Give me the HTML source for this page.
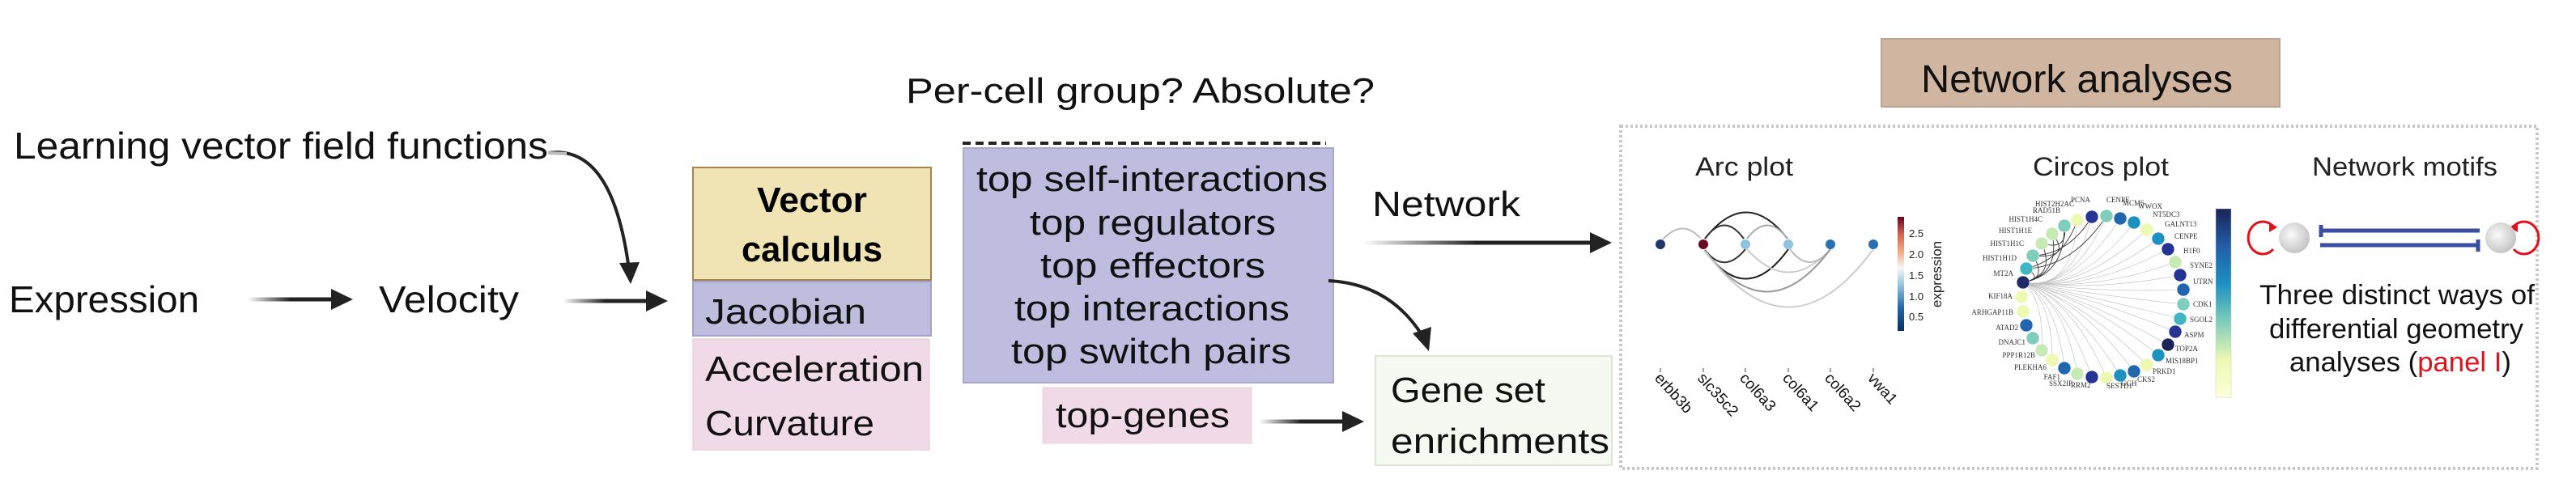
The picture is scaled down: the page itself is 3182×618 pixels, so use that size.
<!DOCTYPE html>
<html><head><meta charset="utf-8"><style>
html,body{margin:0;padding:0;background:#fff;}
svg{display:block;font-family:"Liberation Sans",sans-serif;}
</style></head><body>
<svg width="3182" height="618" viewBox="0 0 3182 618" xmlns="http://www.w3.org/2000/svg">
<defs>
<linearGradient id="gh" x1="0" x2="1" y1="0" y2="0"><stop offset="0" stop-color="#fff"/><stop offset="0.5" stop-color="#222"/><stop offset="1" stop-color="#222"/></linearGradient>
<linearGradient id="rdbu" x1="0" x2="0" y1="1" y2="0"><stop offset="0" stop-color="#053061"/><stop offset="0.2" stop-color="#2166ac"/><stop offset="0.4" stop-color="#92c5de"/><stop offset="0.55" stop-color="#f7f7f7"/><stop offset="0.7" stop-color="#f4a582"/><stop offset="0.85" stop-color="#d6604d"/><stop offset="1" stop-color="#67001f"/></linearGradient>
<linearGradient id="ygb" x1="0" x2="0" y1="1" y2="0"><stop offset="0" stop-color="#ffffd9"/><stop offset="0.2" stop-color="#edf8b1"/><stop offset="0.4" stop-color="#7fcdbb"/><stop offset="0.6" stop-color="#1d91c0"/><stop offset="0.8" stop-color="#225ea8"/><stop offset="1" stop-color="#1a2458"/></linearGradient>
<radialGradient id="ball" cx="0.4" cy="0.4" r="0.7"><stop offset="0" stop-color="#fafafa"/><stop offset="1" stop-color="#bdbdbd"/></radialGradient>
</defs>

<!-- left text -->
<g fill="#111" font-size="46">
<text x="17" y="196" textLength="660" lengthAdjust="spacingAndGlyphs">Learning vector field functions</text>
<text x="11" y="386" textLength="235" lengthAdjust="spacingAndGlyphs">Expression</text>
<text x="468" y="386" textLength="173" lengthAdjust="spacingAndGlyphs">Velocity</text>
</g>
<!-- arrows -->
<rect x="306" y="367.5" width="106" height="5" fill="url(#gh)"/>
<polygon points="409,357 436,370 409,383" fill="#222"/>
<rect x="695" y="369.5" width="106" height="5" fill="url(#gh)"/>
<polygon points="798,359 825,372 798,385" fill="#222"/>
<path d="M677,189 C740,180 765,250 776,326" fill="none" stroke="#222" stroke-width="4"/>
<path d="M677,189 L700,190" stroke="#bbb" stroke-width="4"/>
<polygon points="765,325 790,324 779,351" fill="#222"/>

<!-- vector calculus stack -->
<rect x="856" y="207" width="294" height="139" fill="#f0e3b4" stroke="#a8844c" stroke-width="2"/>
<g font-weight="bold" font-size="44" fill="#000" text-anchor="middle">
<text x="1003" y="262" textLength="136" lengthAdjust="spacingAndGlyphs">Vector</text>
<text x="1003" y="323" textLength="174" lengthAdjust="spacingAndGlyphs">calculus</text>
</g>
<rect x="856" y="348" width="294" height="67" fill="#bfbddd" stroke="#a3a1cc" stroke-width="2"/>
<rect x="856" y="419" width="292" height="137" fill="#f0dae7" stroke="#ead0df" stroke-width="1.5"/>
<g font-size="44" fill="#111">
<text x="871" y="400" textLength="199" lengthAdjust="spacingAndGlyphs">Jacobian</text>
<text x="871" y="471" textLength="270" lengthAdjust="spacingAndGlyphs">Acceleration</text>
<text x="871" y="538" textLength="209" lengthAdjust="spacingAndGlyphs">Curvature</text>
</g>

<!-- middle -->
<text x="1119" y="127" font-size="44" fill="#111" textLength="579" lengthAdjust="spacingAndGlyphs">Per-cell group?   Absolute?</text>
<line x1="1189" y1="177" x2="1638" y2="177" stroke="#222" stroke-width="4" stroke-dasharray="10,6"/>
<rect x="1190" y="183" width="457" height="290" fill="#bebde0" stroke="#a8a7cc" stroke-width="2"/>
<g font-size="44" fill="#111" text-anchor="middle">
<text x="1423" y="236" textLength="434" lengthAdjust="spacingAndGlyphs">top self-interactions</text>
<text x="1424" y="290" textLength="304" lengthAdjust="spacingAndGlyphs">top regulators</text>
<text x="1424" y="343" textLength="278" lengthAdjust="spacingAndGlyphs">top effectors</text>
<text x="1423" y="396" textLength="340" lengthAdjust="spacingAndGlyphs">top interactions</text>
<text x="1422" y="449" textLength="346" lengthAdjust="spacingAndGlyphs">top switch pairs</text>
</g>
<rect x="1288" y="479" width="258" height="69" fill="#f0dae7" stroke="#ead0df"/>
<text x="1304" y="528" font-size="44" fill="#111" textLength="215" lengthAdjust="spacingAndGlyphs">top-genes</text>
<text x="1695" y="267" font-size="44" fill="#111" textLength="183" lengthAdjust="spacingAndGlyphs">Network</text>
<rect x="1684" y="297.5" width="282" height="5" fill="url(#gh)"/>
<polygon points="1964,287 1991,300 1964,313" fill="#222"/>
<path d="M1641,347 C1700,350 1735,380 1757,415" fill="none" stroke="#222" stroke-width="4"/>
<polygon points="1745,412 1768,404 1765,434" fill="#222"/>
<rect x="1555" y="518.5" width="105" height="5" fill="url(#gh)"/>
<polygon points="1658,508 1685,521 1658,534" fill="#222"/>
<rect x="1699" y="440" width="292" height="135" fill="#f6f9f2" stroke="#dde6d5" stroke-width="2"/>
<g font-size="44" fill="#111">
<text x="1718" y="497" textLength="191" lengthAdjust="spacingAndGlyphs">Gene set</text>
<text x="1718" y="560" textLength="270" lengthAdjust="spacingAndGlyphs">enrichments</text>
</g>

<!-- network analyses -->
<rect x="2324" y="48" width="492" height="84" fill="#d0b5a0" stroke="#b8a596" stroke-width="2"/>
<text x="2373" y="114" font-size="48" fill="#111" textLength="385" lengthAdjust="spacingAndGlyphs">Network analyses</text>
<rect x="2002" y="156" width="1132" height="423" fill="none" stroke="#c8c8c8" stroke-width="4" stroke-dasharray="3,3"/>
<g font-size="32" fill="#222">
<text x="2094" y="217" textLength="121" lengthAdjust="spacingAndGlyphs">Arc plot</text>
<text x="2511" y="217" textLength="168" lengthAdjust="spacingAndGlyphs">Circos plot</text>
<text x="2856" y="217" textLength="229" lengthAdjust="spacingAndGlyphs">Network motifs</text>
</g>

<!-- arc plot -->
<g fill="none" stroke-width="2">
<path d="M2054,296 Q2078,270 2100,294" stroke="#bbb"/>
<path d="M2106,295 Q2157,230 2208,295" stroke="#222"/>
<path d="M2106,295 Q2130,262 2154,295" stroke="#333"/>
<path d="M2158,295 Q2183,262 2208,295" stroke="#aaa"/>
<path d="M2156,308 Q2130,340 2106,309" stroke="#333"/>
<path d="M2209,308 Q2157,380 2106,310" stroke="#222"/>
<path d="M2261,308 Q2209,365 2158,308" stroke="#ccc"/>
<path d="M2261,308 Q2235,340 2211,308" stroke="#bbb"/>
<path d="M2261,308 Q2183,412 2106,310" stroke="#999"/>
<path d="M2314,308 Q2210,450 2106,310" stroke="#ccc"/>
</g>
<g>
<circle cx="2051" cy="302" r="6" fill="#1f3a6a"/>
<circle cx="2104" cy="302" r="6" fill="#6b0a1e"/>
<circle cx="2156" cy="302" r="6" fill="#8ec4e0"/>
<circle cx="2209" cy="302" r="6" fill="#8ec4e0"/>
<circle cx="2261" cy="302" r="6" fill="#2a6fb0"/>
<circle cx="2314" cy="302" r="6" fill="#2a6fb0"/>
</g>
<rect x="2344" y="268" width="8" height="141" fill="url(#rdbu)"/>
<g font-size="13" fill="#222">
<text x="2358" y="293">2.5</text><text x="2358" y="319">2.0</text><text x="2358" y="345">1.5</text><text x="2358" y="371">1.0</text><text x="2358" y="396">0.5</text>
</g>
<text transform="translate(2398,339) rotate(-90)" text-anchor="middle" font-size="17" fill="#222">expression</text>
<g stroke="#444" stroke-width="1">
<line x1="2051" y1="455" x2="2051" y2="460"/><line x1="2104" y1="455" x2="2104" y2="460"/><line x1="2156" y1="455" x2="2156" y2="460"/><line x1="2209" y1="455" x2="2209" y2="460"/><line x1="2261" y1="455" x2="2261" y2="460"/><line x1="2314" y1="455" x2="2314" y2="460"/>
</g>
<g font-size="19" fill="#111">
<text transform="translate(2043,468) rotate(48)">erbb3b</text>
<text transform="translate(2096,468) rotate(48)">slc35c2</text>
<text transform="translate(2148,468) rotate(48)">col6a3</text>
<text transform="translate(2201,468) rotate(48)">col6a1</text>
<text transform="translate(2253,468) rotate(48)">col6a2</text>
<text transform="translate(2306,468) rotate(48)">vwa1</text>
</g>

<!-- circos edges -->
<g stroke="#bbb" stroke-width="0.6" fill="none">
<path d="M2499,349 Q2560,360 2566,272"/><path d="M2499,349 Q2560,360 2584,268"/><path d="M2499,349 Q2560,360 2602,267"/><path d="M2499,349 Q2560,360 2619,270"/><path d="M2499,349 Q2570,360 2636,275"/><path d="M2499,349 Q2570,360 2652,284"/><path d="M2499,349 Q2580,360 2666,295"/><path d="M2499,349 Q2580,360 2678,308"/><path d="M2499,349 Q2590,360 2687,324"/><path d="M2499,349 Q2590,360 2693,340"/><path d="M2499,349 Q2590,362 2697,358"/><path d="M2499,349 Q2590,365 2697,376"/><path d="M2499,349 Q2590,368 2693,394"/><path d="M2499,349 Q2590,370 2687,410"/><path d="M2499,349 Q2580,370 2678,426"/><path d="M2499,349 Q2580,370 2666,439"/><path d="M2499,349 Q2570,370 2652,451"/><path d="M2499,349 Q2570,370 2636,459"/><path d="M2499,349 Q2560,370 2619,464"/><path d="M2499,349 Q2560,370 2602,467"/><path d="M2499,349 Q2550,370 2584,466"/><path d="M2499,349 Q2550,370 2566,462"/><path d="M2499,349 Q2540,370 2550,455"/><path d="M2499,349 Q2535,370 2535,445"/><path d="M2499,349 Q2525,370 2522,433"/>
</g>
<g stroke="#333" stroke-width="0.9" fill="none">
<path d="M2499,349 Q2540,340 2522,301"/><path d="M2499,349 Q2545,340 2535,289"/><path d="M2499,349 Q2550,340 2550,279"/><path d="M2499,349 Q2530,345 2511,316"/><path d="M2499,349 Q2525,345 2503,332"/><path d="M2503,332 Q2550,320 2566,272"/><path d="M2511,316 Q2555,315 2584,268"/><path d="M2522,301 Q2555,310 2550,279"/><path d="M2503,332 Q2560,330 2602,267"/><path d="M2511,316 Q2560,320 2535,289"/>
</g>
<!-- circos nodes -->
<g stroke="#fff" stroke-width="0.5">
<circle cx="2566" cy="272" r="8" fill="#edf8b1"/><circle cx="2584" cy="268" r="8" fill="#253494"/><circle cx="2602" cy="267" r="8" fill="#7fcdbb"/><circle cx="2619" cy="270" r="8" fill="#2167b0"/><circle cx="2636" cy="275" r="8" fill="#1d91c0"/><circle cx="2652" cy="284" r="8" fill="#edf8b1"/><circle cx="2666" cy="295" r="8" fill="#1d91c0"/><circle cx="2678" cy="308" r="8" fill="#253494"/><circle cx="2687" cy="324" r="8" fill="#c7e9b4"/><circle cx="2693" cy="340" r="8" fill="#253494"/><circle cx="2697" cy="358" r="8" fill="#2167b0"/><circle cx="2697" cy="376" r="8" fill="#7fcdbb"/><circle cx="2693" cy="394" r="8" fill="#41b6c4"/><circle cx="2687" cy="410" r="8" fill="#253494"/><circle cx="2678" cy="426" r="8" fill="#1a2458"/><circle cx="2666" cy="439" r="8" fill="#1d91c0"/><circle cx="2652" cy="451" r="8" fill="#edf8b1"/><circle cx="2636" cy="459" r="8" fill="#2167b0"/><circle cx="2619" cy="464" r="8" fill="#1d91c0"/><circle cx="2602" cy="467" r="8" fill="#edf8b1"/><circle cx="2584" cy="466" r="8" fill="#253494"/><circle cx="2566" cy="462" r="8" fill="#c7e9b4"/><circle cx="2550" cy="455" r="8" fill="#2167b0"/><circle cx="2535" cy="445" r="8" fill="#edf8b1"/><circle cx="2522" cy="433" r="8" fill="#c7e9b4"/><circle cx="2511" cy="418" r="8" fill="#7fcdbb"/><circle cx="2503" cy="402" r="8" fill="#2167b0"/><circle cx="2499" cy="385" r="8" fill="#edf8b1"/><circle cx="2497" cy="367" r="8" fill="#edf8b1"/><circle cx="2499" cy="349" r="8" fill="#1f2a6a"/><circle cx="2503" cy="332" r="8" fill="#41b6c4"/><circle cx="2511" cy="316" r="8" fill="#7fcdbb"/><circle cx="2522" cy="301" r="8" fill="#c7e9b4"/><circle cx="2535" cy="289" r="8" fill="#c7e9b4"/><circle cx="2550" cy="279" r="8" fill="#7fcdbb"/>
</g>
<g font-family="Liberation Serif,serif" font-size="9" fill="#333">
<text x="2558" y="250">PCNA</text><text x="2602" y="250">CENPF</text><text x="2622" y="254">MCM6</text><text x="2641" y="258">WWOX</text><text x="2659" y="268">NT5DC3</text><text x="2674" y="280">GALNT13</text><text x="2686" y="295">CENPE</text><text x="2697" y="313">H1F0</text><text x="2705" y="331">SYNE2</text><text x="2709" y="351">UTRN</text><text x="2709" y="379">CDK1</text><text x="2705" y="398">SGOL2</text><text x="2698" y="417">ASPM</text><text x="2687" y="434">TOP2A</text><text x="2675" y="449">MIS18BP1</text><text x="2659" y="462">PRKD1</text><text x="2640" y="472">CKS2</text><text x="2620" y="477">GGH</text><text x="2602" y="480">SESTD1</text><text x="2558" y="479">RRM2</text>
</g>
<g font-family="Liberation Serif,serif" font-size="9" fill="#333" text-anchor="end">
<text x="2560" y="477">SSX2IP</text><text x="2545" y="469">FAF1</text><text x="2528" y="457">PLEKHA6</text><text x="2514" y="442">PPP1R12B</text><text x="2502" y="426">DNAJC1</text><text x="2493" y="408">ATAD2</text><text x="2487" y="389">ARHGAP11B</text><text x="2486" y="369">KIF18A</text><text x="2487" y="341">MT2A</text><text x="2491" y="322">HIST1H1D</text><text x="2500" y="304">HIST1H1C</text><text x="2510" y="288">HIST1H1E</text><text x="2523" y="274">HIST1H4C</text><text x="2545" y="263">RAD51B</text><text x="2562" y="255">HIST2H2AC</text>
</g>
<rect x="2737" y="258" width="19" height="233" fill="url(#ygb)" stroke="#ccc" stroke-width="0.5"/>

<!-- motifs -->
<path d="M2808,280 A18,20 0 1 0 2808,308" fill="none" stroke="#e0121b" stroke-width="3"/>
<polygon points="2803,274 2813,281 2803,287" fill="#e0121b"/>
<circle cx="2834" cy="294" r="19" fill="url(#ball)"/>
<path d="M3105,280 A18,20 0 1 1 3105,308" fill="none" stroke="#e0121b" stroke-width="3"/>
<polygon points="3110,274 3100,281 3110,287" fill="#e0121b"/>
<circle cx="3089" cy="294" r="19" fill="url(#ball)"/>
<g stroke="#3a4fa3" stroke-width="5">
<line x1="2867" y1="285" x2="3063" y2="285"/>
<line x1="2867" y1="278" x2="2867" y2="293"/>
<line x1="2866" y1="303" x2="3061" y2="303"/>
<line x1="3061" y1="296" x2="3061" y2="311"/>
</g>
<g font-size="34" fill="#111">
<text x="2791" y="376" textLength="340" lengthAdjust="spacingAndGlyphs">Three distinct ways of</text>
<text x="2803" y="418" textLength="314" lengthAdjust="spacingAndGlyphs">differential geometry</text>
<text x="2828" y="459" textLength="274" lengthAdjust="spacingAndGlyphs">analyses (<tspan fill="#e0121b">panel I</tspan>)</text>
</g>
</svg>
</body></html>
